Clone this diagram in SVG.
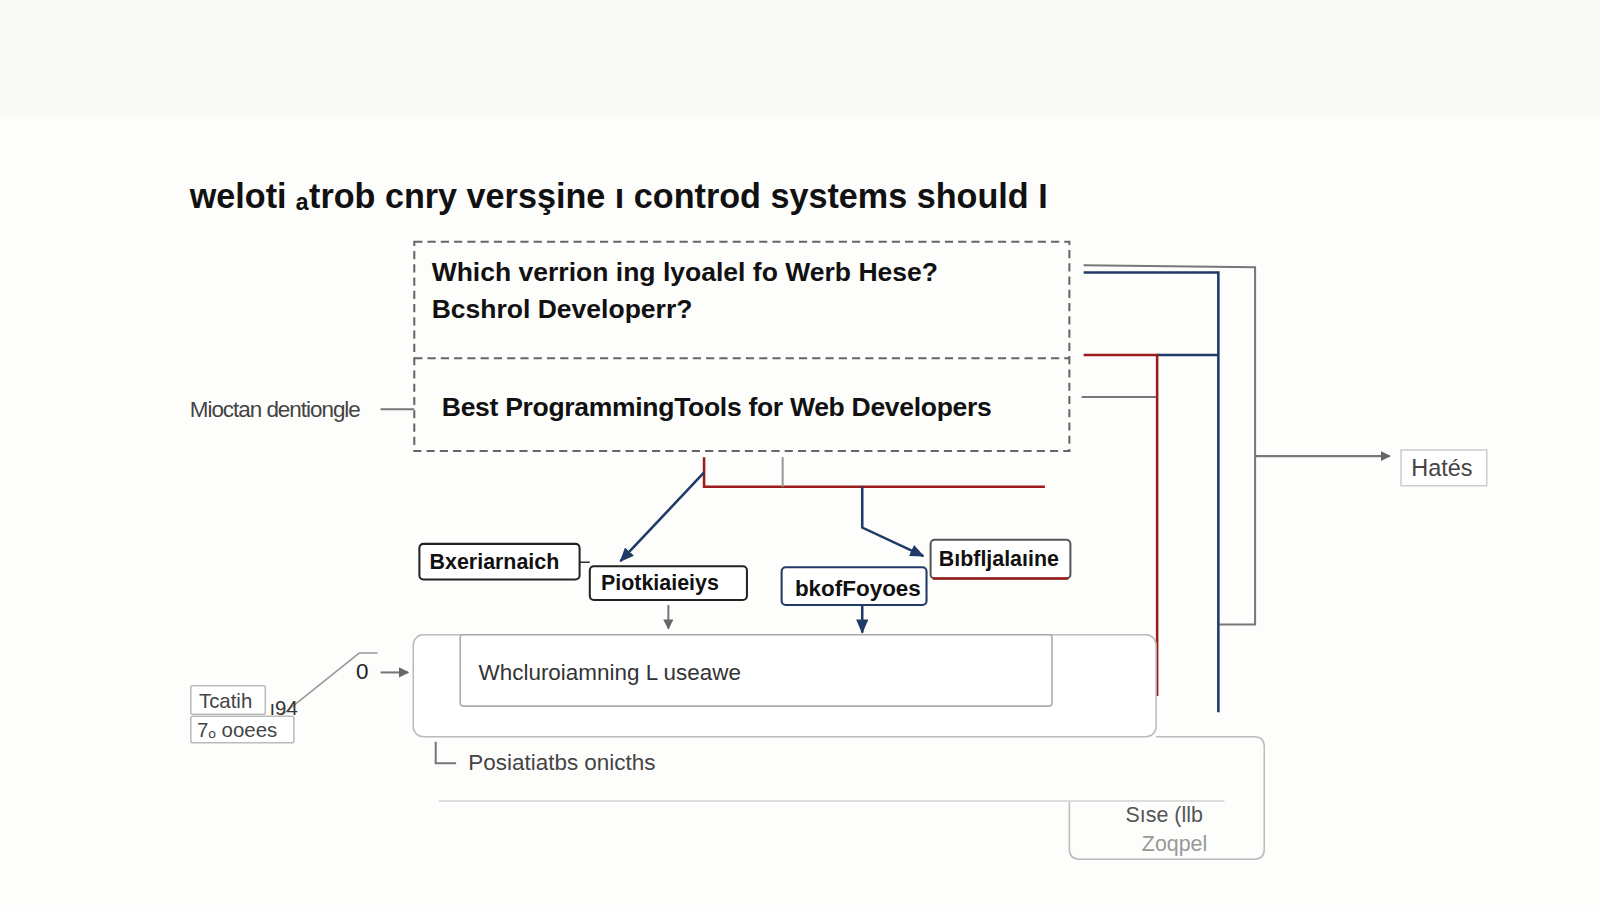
<svg xmlns="http://www.w3.org/2000/svg" width="1600" height="906" viewBox="0 0 1600 906">
<style>
text{font-family:"Liberation Sans",Arial,sans-serif}
.b{font-weight:bold;fill:#111}
.g{fill:#444}
.node{fill:#fff;stroke:#222;stroke-width:2}
.thin{fill:none;stroke:#bbb;stroke-width:1.5}
.gl{fill:none;stroke:#777;stroke-width:2}
.rd{fill:none;stroke:#9b1c1c;stroke-width:2.5}
.bl{fill:none;stroke:#1f3a66;stroke-width:2.5}
</style>
<defs>
<marker id="ag" markerWidth="10" markerHeight="10" refX="9" refY="5" orient="auto" markerUnits="userSpaceOnUse"><path d="M0,0 L10,5 L0,10 z" fill="#666"/></marker>
<marker id="ab" markerWidth="14" markerHeight="12" refX="13" refY="6" orient="auto" markerUnits="userSpaceOnUse"><path d="M0,0 L14,6 L0,12 z" fill="#1f3a66"/></marker>
</defs>
<rect width="1600" height="906" fill="#f9f9f8"/>
<g transform="scale(1.0204)">
<rect x="0" y="115" width="1600" height="791" fill="#fdfdfc"/>
<text x="186" y="204" font-size="33.5" class="b">weloti ₐtrob cnry versşine ı controd systems should I</text>

<g id="connectors">
<polyline class="gl" points="1062,260 1230,262 1230,612 1195,612"/>
<polyline class="bl" points="1062,267 1194,267 1194,698"/>
<line class="bl" x1="1134" y1="348" x2="1194" y2="348"/>
<polyline class="rd" points="1062,348 1134,348 1134,682"/>
<line class="gl" x1="1060" y1="389" x2="1133" y2="389"/>
<line class="gl" x1="1230" y1="447" x2="1362" y2="447" marker-end="url(#ag)"/>
<polyline class="rd" points="690,448 690,477 1024,477"/>
<line class="gl" x1="767" y1="448" x2="767" y2="477" style="stroke:#999"/>
<line class="bl" x1="690" y1="463" x2="608" y2="550" marker-end="url(#ab)"/>
<polyline class="bl" points="845,477 845,517 905,545" marker-end="url(#ab)"/>
<line class="gl" x1="655" y1="593" x2="655" y2="616" marker-end="url(#ag)"/>
<line class="bl" x1="845" y1="593" x2="845" y2="620" marker-end="url(#ab)"/>
<line class="gl" x1="373" y1="659" x2="400" y2="659" marker-end="url(#ag)"/>
<polyline class="gl" points="370,640 352,640 277,700" style="stroke:#999;stroke-width:1.5"/>
<line class="gl" x1="373" y1="401" x2="406" y2="401"/>
<polyline class="gl" points="427,727 427,748 447,748"/>
<line class="thin" x1="568" y1="551" x2="578" y2="551" style="stroke:#333"/>
</g>

<g id="question">
<rect x="406" y="237" width="642" height="205" fill="none" stroke="#666" stroke-width="2" stroke-dasharray="8,5"/>
<line x1="406" y1="351" x2="1048" y2="351" stroke="#666" stroke-width="2" stroke-dasharray="8,5"/>
<text x="423" y="275" font-size="26" class="b">Which verrion ing lyoalel fo Werb Hese?</text>
<text x="423" y="312" font-size="26" class="b">Bcshrol Developerr?</text>
<text x="433" y="408" font-size="26" class="b" letter-spacing="-0.3">Best ProgrammingTools for Web Developers</text>
</g>
<g id="side-label"><text x="186" y="409" font-size="22" class="g" letter-spacing="-1">Mioctan dentiongle</text></g>

<g id="hates"><rect x="1373" y="441" width="84" height="35" fill="#fff" stroke="#ccc" stroke-width="1.5"/><text x="1383" y="466" font-size="23" class="g">Hatés</text></g>

<g id="n1"><rect class="node" x="411" y="533" width="157" height="35" rx="4"/><text x="421" y="558" font-size="21" class="b">Bxeriarnaich</text></g>
<g id="n2"><rect class="node" x="578" y="555" width="154" height="33" rx="4"/><text x="589" y="578" font-size="21" class="b">Piotkiaieiys</text></g>
<g id="n3"><rect class="node" x="766" y="556" width="142" height="37" rx="4" style="stroke:#1f3a66"/><text x="779" y="584" font-size="22" class="b">bkofFoyoes</text></g>
<g id="n4"><rect class="node" x="912" y="529" width="137" height="38" rx="4" style="stroke:#555"/><line x1="914" y1="567" x2="1047" y2="567" stroke="#9b1c1c" stroke-width="2.5"/><text x="920" y="555" font-size="21" class="b">Bıbfljalaıine</text></g>

<g id="panel">
<rect x="405" y="622" width="728" height="100" rx="10" fill="#fff" stroke="#bbb" stroke-width="1.5"/>
<rect x="451" y="622" width="580" height="70" rx="3" fill="#fff" stroke="#aaa" stroke-width="1.5"/>
<text x="469" y="666" font-size="22" fill="#333">Whcluroiamning L useawe</text>
</g>
<g id="zero"><text x="349" y="665" font-size="22" fill="#222">0</text></g>
<g id="tcatih">
<rect x="187" y="672" width="73" height="28" rx="2" fill="#fff" stroke="#bbb" stroke-width="1.5"/>
<text x="195" y="694" font-size="20" class="g">Tcatih</text>
<rect x="187" y="702" width="101" height="26" rx="2" fill="#fff" stroke="#bbb" stroke-width="1.5"/>
<text x="193" y="722" font-size="20" class="g">7ₒ ooees</text>
<text x="264" y="701" font-size="20" fill="#333">ı94</text>
</g>
<g id="pos"><text x="459" y="755" font-size="22" class="g">Posiatiatbs onicths</text></g>
<g id="lower">
<path d="M1133,722 L1229,722 Q1239,722 1239,732 L1239,832 Q1239,842 1229,842 L1058,842 Q1048,842 1048,832 L1048,785" fill="none" stroke="#bbb" stroke-width="1.5"/>
<line x1="430" y1="785" x2="1200" y2="785" stroke="#ddd" stroke-width="2"/>
<text x="1103" y="806" font-size="21" fill="#555">Sıse (llb</text>
<text x="1119" y="834" font-size="21" fill="#999">Zoqpel</text>
</g>
</g>
</svg>
